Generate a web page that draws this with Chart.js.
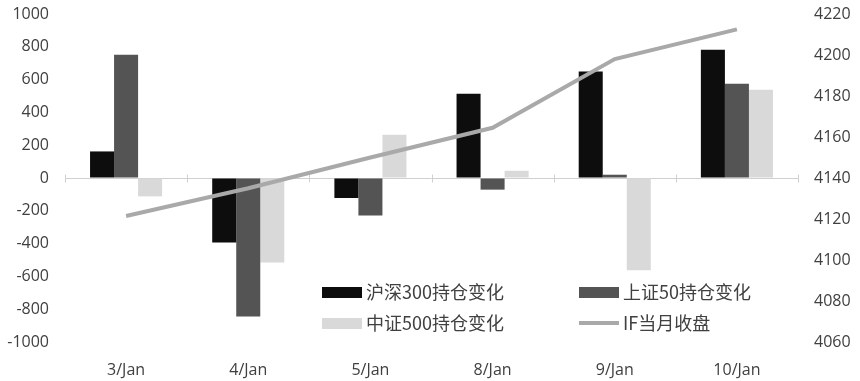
<!DOCTYPE html>
<html>
<head>
<meta charset="utf-8">
<script src="https://cdn.jsdelivr.net/npm/chart.js@4"></script>
<style>
  html, body { margin: 0; padding: 0; background: #fff; }
  #wrap { width: 860px; height: 381px; position: relative; }
</style>
</head>
<body>
<div id="wrap"><canvas id="c" width="860" height="381"></canvas></div>
<script>
const dates = ['3/Jan', '4/Jan', '5/Jan', '8/Jan', '9/Jan', '10/Jan'];
const hs300 = [162, -393, -122, 514, 650, 782];
const sz50 = [752, -844, -228, -71, 20, 575];
const zz500 = [-112, -515, 264, 44, -563, 538];
const ifClose = [4121.5, 4135, 4150, 4164.5, 4198, 4212.5];
const leftTicks = [-1000, -800, -600, -400, -200, 0, 200, 400, 600, 800, 1000];
const rightTicks = [4060, 4080, 4100, 4120, 4140, 4160, 4180, 4200, 4220];

const FONT = '"Open Sans", "Noto Sans CJK SC", sans-serif';

// small category marks on the zero line
const zeroTicks = {
  id: 'zeroTicks',
  beforeDatasetsDraw(chart) {
    const { ctx, scales } = chart;
    const y0 = Math.round(scales.y.getPixelForValue(0)) + 0.5;
    const step = scales.x.getPixelForValue(1) - scales.x.getPixelForValue(0);
    ctx.save();
    ctx.strokeStyle = '#d0d0d0';
    ctx.lineWidth = 1;
    for (let i = 0; i <= dates.length; i++) {
      const x = Math.round(scales.x.getPixelForValue(0) - step / 2 + i * step) + 0.5;
      ctx.beginPath();
      ctx.moveTo(x, y0 - 4);
      ctx.lineTo(x, y0 + 4);
      ctx.stroke();
    }
    ctx.restore();
  }
};

// legend drawn inside the plot, two columns like the original
const legendPlugin = {
  id: 'innerLegend',
  afterDraw(chart) {
    const ctx = chart.ctx;
    const ds = chart.data.datasets;
    const spots = [[322, 292], [579, 292], [322, 323], [579, 323]];
    // order in the picture: hs300, sz50, zz500, IF
    const idx = [1, 2, 3, 0];
    ctx.save();
    ctx.font = '18px "Noto Sans CJK SC", sans-serif';
    ctx.textBaseline = 'middle';
    idx.forEach((d, i) => {
      const [x, y] = spots[i];
      const set = ds[d];
      if (set.type === 'line') {
        ctx.strokeStyle = set.borderColor;
        ctx.lineWidth = 4;
        ctx.beginPath();
        ctx.moveTo(x, y);
        ctx.lineTo(x + 40, y);
        ctx.stroke();
      } else {
        ctx.fillStyle = set.backgroundColor;
        ctx.fillRect(x, y - 5, 40, 11);
      }
      ctx.fillStyle = '#404040';
      ctx.fillText(set.label, x + 44, y);
    });
    ctx.restore();
  }
};

const noPad = s => { s.paddingTop = 0; s.paddingBottom = 0; };

new Chart(document.getElementById('c'), {
  data: {
    labels: dates,
    datasets: [
      {
        type: 'line',
        label: 'IF当月收盘',
        data: ifClose,
        yAxisID: 'y2',
        borderColor: '#a9a9a9',
        borderWidth: 4,
        pointRadius: 0,
        tension: 0,
        order: 0
      },
      { type: 'bar', label: '沪深300持仓变化', data: hs300, backgroundColor: '#0d0d0d', order: 1 },
      { type: 'bar', label: '上证50持仓变化', data: sz50, backgroundColor: '#545454', order: 1 },
      { type: 'bar', label: '中证500持仓变化', data: zz500, backgroundColor: '#d9d9d9', order: 1 }
    ]
  },
  options: {
    responsive: false,
    animation: false,
    layout: { padding: { top: 14, right: 0, left: 0, bottom: 0 } },
    datasets: { bar: { barPercentage: 1, categoryPercentage: 0.59 } },
    plugins: { legend: { display: false }, tooltip: { enabled: false } },
    scales: {
      x: {
        grid: { display: false },
        border: { display: false },
        ticks: { color: '#404040', font: { family: FONT, size: 16 }, padding: 11 },
        afterFit(s) { s.height = 39; s.paddingLeft = 0; s.paddingRight = 0; }
      },
      y: {
        position: 'left',
        min: -1000, max: 1000,
        afterBuildTicks(s) { s.ticks = leftTicks.map(v => ({ value: v })); },
        grid: {
          drawTicks: false,
          color: c => (c.tick && c.tick.value === 0 ? '#d0d0d0' : 'rgba(0,0,0,0)'),
          lineWidth: 1
        },
        border: { display: false },
        ticks: { color: '#404040', font: { family: FONT, size: 16 }, padding: 16, callback: v => String(v) },
        afterFit(s) { s.width = 65; noPad(s); }
      },
      y2: {
        position: 'right',
        min: 4060, max: 4220,
        afterBuildTicks(s) { s.ticks = rightTicks.map(v => ({ value: v })); },
        grid: { display: false },
        border: { display: false },
        ticks: { color: '#404040', font: { family: FONT, size: 16 }, padding: 8, callback: v => String(v) },
        afterFit(s) { s.width = 62; noPad(s); }
      }
    }
  },
  plugins: [zeroTicks, legendPlugin]
});
</script>
</body>
</html>
